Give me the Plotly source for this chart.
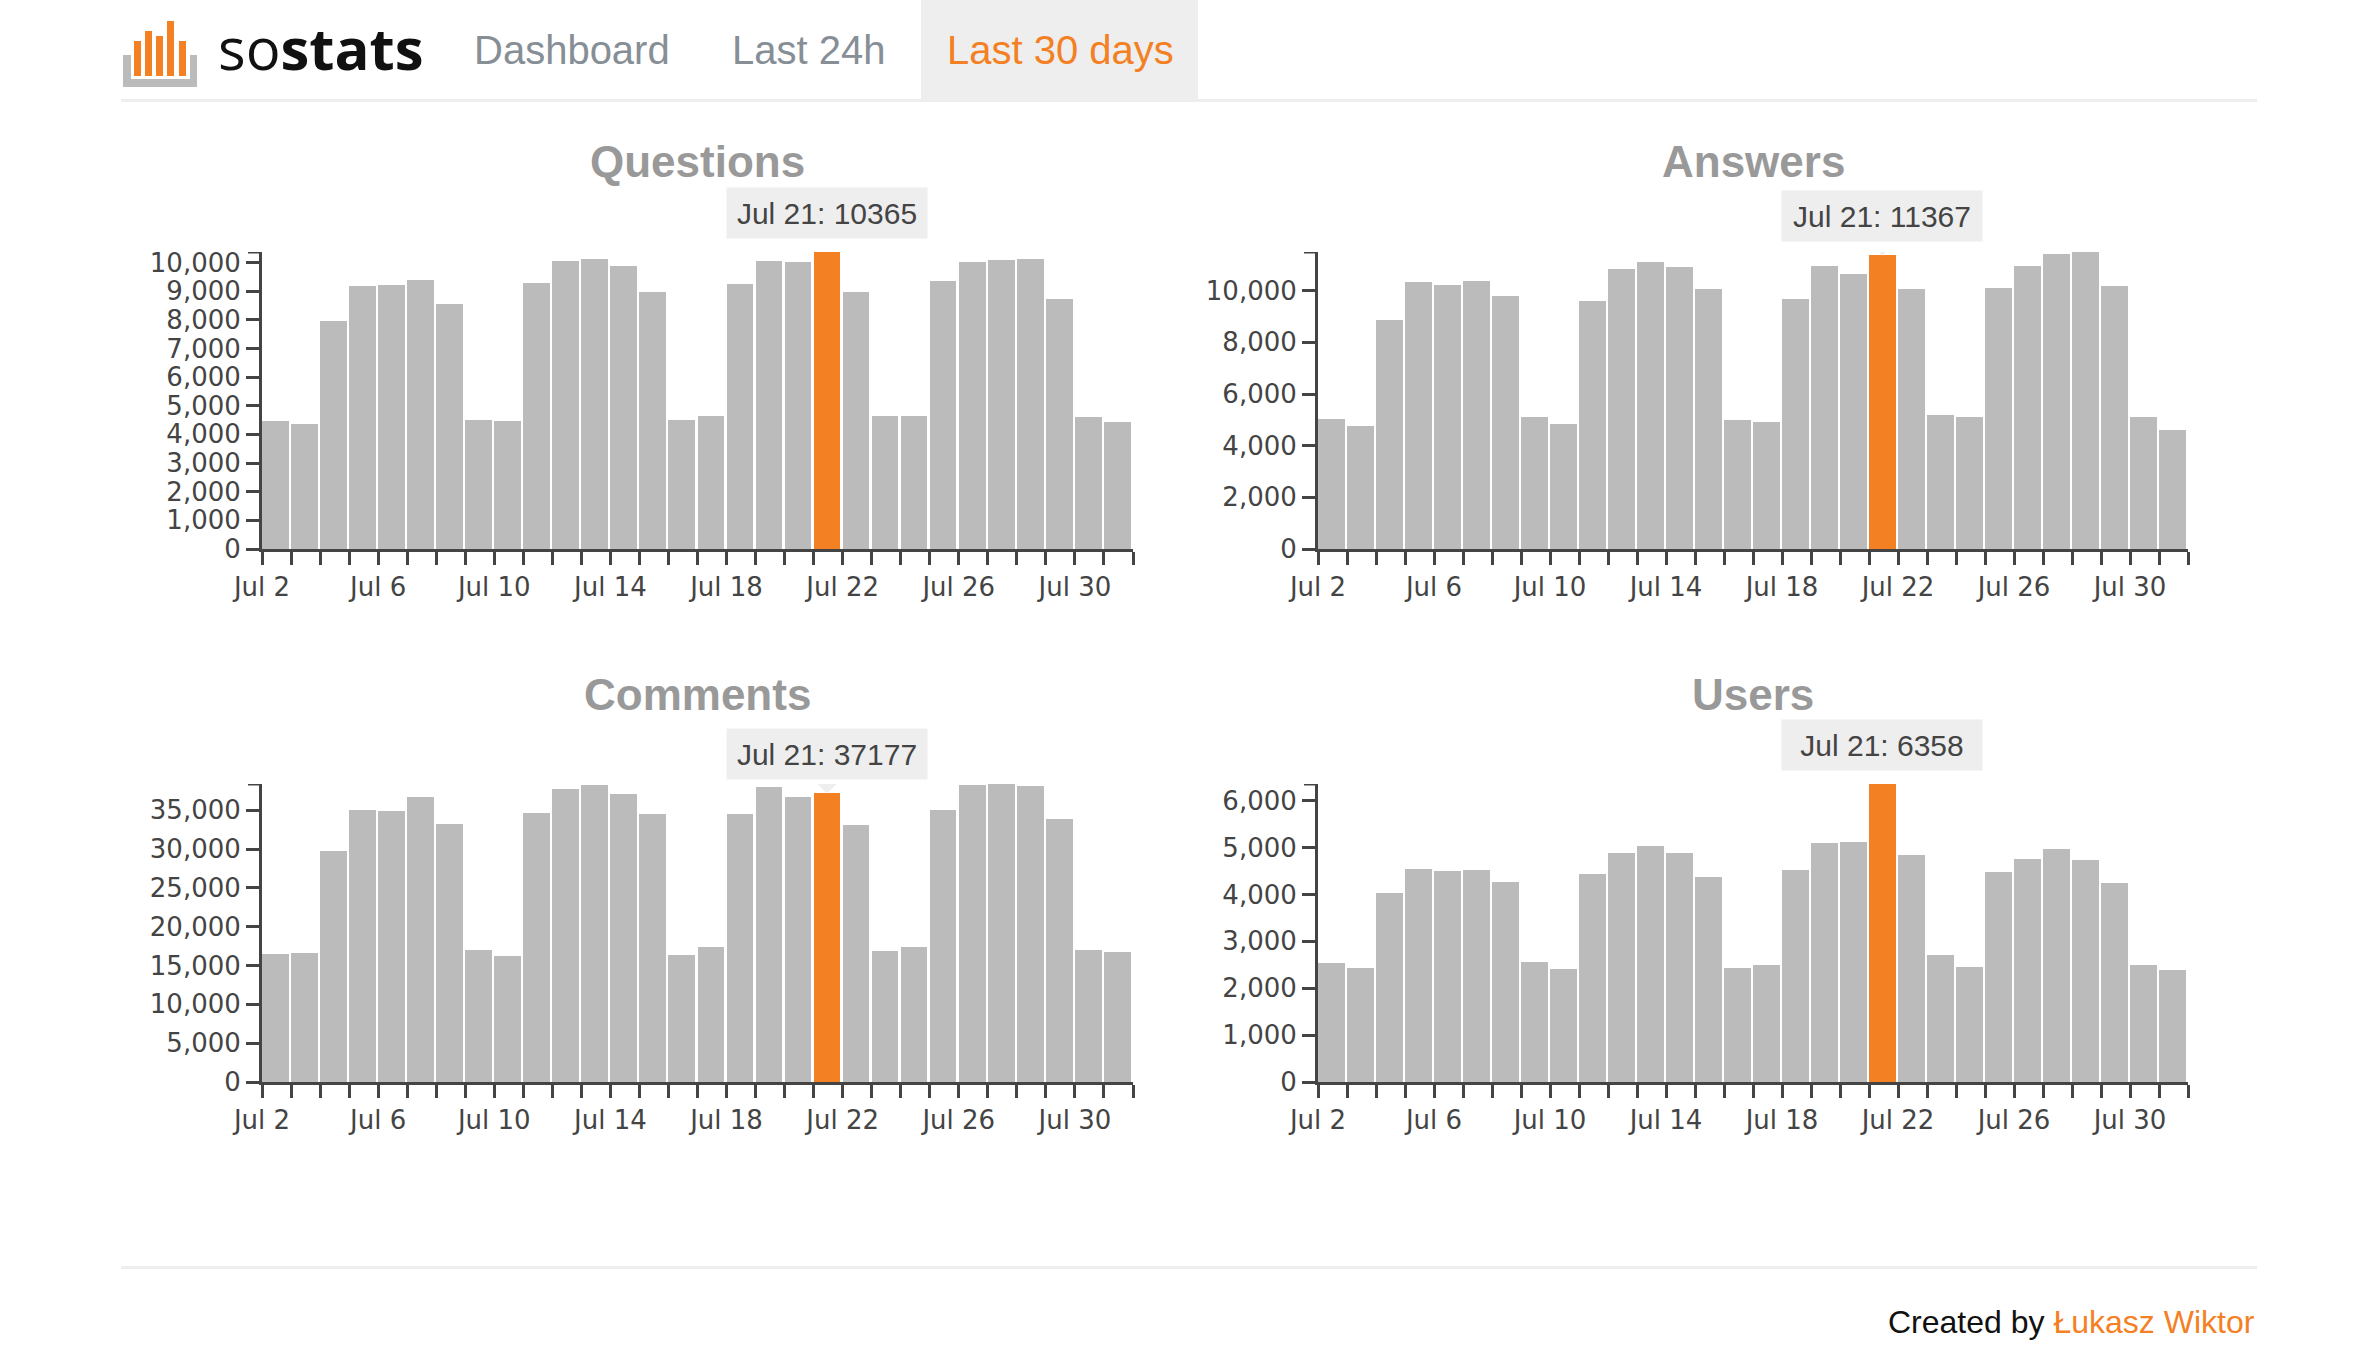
import plotly.graph_objects as go
from datetime import date, timedelta

# ---------------- data ----------------
year, month = 2016, 7
days = list(range(2, 32))  # Jul 2 .. Jul 31
questions = [4480, 4360, 7960, 9170, 9230, 9390, 8540, 4510, 4450, 9280, 10050, 10110, 9870, 8970,
             4490, 4650, 9260, 10050, 10000, 10365, 8970, 4640, 4640, 9350, 10000, 10080, 10130, 8730,
             4600, 4440]
answers = [5020, 4780, 8850, 10320, 10210, 10360, 9790, 5130, 4840, 9620, 10850, 11110, 10910, 10050,
           5010, 4910, 9670, 10950, 10650, 11367, 10070, 5180, 5130, 10120, 10960, 11430, 11500, 10180,
           5100, 4620]
comments = [16430, 16560, 29790, 35020, 34850, 36660, 33200, 16990, 16210, 34630, 37790, 38220, 37050, 34500,
            16390, 17420, 34500, 38000, 36750, 37177, 33160, 16820, 17380, 35060, 38220, 38390, 38090, 33900,
            16990, 16780]
users = [2540, 2440, 4030, 4550, 4510, 4530, 4260, 2560, 2420, 4430, 4880, 5040, 4880, 4380,
         2440, 2500, 4530, 5090, 5130, 6358, 4840, 2710, 2460, 4470, 4760, 4970, 4740, 4250,
         2500, 2390]
highlight_day = 21
titles = ["Questions", "Answers", "Comments", "Users"]
y_dticks = [1000, 2000, 5000, 1000]
nav_items = ["Dashboard", "Last 24h", "Last 30 days"]
footer_text = "Created by"
footer_author = "Łukasz Wiktor"

# ---------------- styling ----------------
W, H = 2375, 1372
GRAY_BAR = "#bbbbbb"
ORANGE = "#f48024"
AXIS = "#444444"
DAY_MS = 86400000
BAR_FRAC = 0.92
TICK_FONT = dict(family="DejaVu Sans", size=26, color=AXIS)

def px(x):
    return x / W

def py(y):
    return 1 - y / H

dates = [date(year, month, d) for d in days]
x_str = [d.isoformat() for d in dates]
x_start = dates[0].isoformat()
x_end = (dates[-1] + timedelta(days=1)).isoformat()

# plot areas in pixels: (left, right, top, bottom)
areas = [(262, 1133, 252, 549), (1318, 2188, 252, 549),
         (262, 1133, 784, 1082), (1318, 2188, 784, 1082)]
title_y = [162, 162, 694, 694]
series = [questions, answers, comments, users]

fig = go.Figure()
shapes = []
annotations = []

for i, (vals, title, dt, area) in enumerate(zip(series, titles, y_dticks, areas)):
    n = "" if i == 0 else str(i + 1)
    xa, ya = "x" + n, "y" + n
    colors = [ORANGE if d == highlight_day else GRAY_BAR for d in days]
    fig.add_trace(go.Bar(
        x=x_str, y=vals, xaxis=xa, yaxis=ya,
        width=[BAR_FRAC * DAY_MS] * len(vals), offset=0,
        marker=dict(color=colors, line=dict(width=0)),
        hovertemplate="%{x|%b %-d}: %{y}<extra></extra>",
        showlegend=False,
    ))
    l, r, t, b = area
    ymax = max(vals)
    fig.update_layout(**{
        "xaxis" + n: dict(
            domain=[px(l), px(r)], anchor=ya, type="date",
            range=[x_start, x_end], tick0=x_start, dtick=4 * DAY_MS,
            tickformat="%b %-d", ticks="outside", ticklen=13, tickwidth=3, tickcolor=AXIS,
            showline=True, linewidth=3, linecolor=AXIS, showgrid=False, zeroline=False,
            tickfont=TICK_FONT, automargin=False,
            minor=dict(dtick=DAY_MS, tick0=x_start, ticks="outside", ticklen=13,
                       tickwidth=3, tickcolor=AXIS, showgrid=False),
            fixedrange=True,
        ),
        "yaxis" + n: dict(
            domain=[py(b), py(t)], anchor=xa, range=[0, ymax],
            dtick=dt, tickformat=",d", ticks="outside", ticklen=13, tickwidth=3, tickcolor=AXIS,
            showline=True, linewidth=3, linecolor=AXIS, showgrid=False, zeroline=False,
            tickfont=TICK_FONT, automargin=False,
            fixedrange=True,
        ),
    })
    # top outer tick of y axis (d3 style)
    shapes.append(dict(type="line", xref="paper", yref=ya, x0=px(l - 14), x1=px(l),
                       y0=ymax, y1=ymax, line=dict(color=AXIS, width=3)))
    # chart title
    annotations.append(dict(xref="paper", yref="paper", x=px((l + r) / 2), y=py(title_y[i]),
                            text="<b>" + title + "</b>", showarrow=False,
                            xanchor="center", yanchor="middle",
                            font=dict(family="Liberation Sans", size=44, color="#999999")))
    # tooltip for highlighted day
    hi = days.index(highlight_day)
    hv = vals[hi]
    xc = (dates[hi].isoformat() + " " +
          "%02d:%02d" % divmod(int(BAR_FRAC * 24 * 60 / 2), 60))
    annotations.append(dict(xref=xa, yref=ya, x=xc, y=hv, showarrow=False,
                            xanchor="center", yanchor="bottom", yshift=13,
                            text="%s %d: %d" % (dates[hi].strftime("%b"), highlight_day, hv),
                            bgcolor="#eeeeee", width=200, height=50, borderpad=0,
                            font=dict(family="Liberation Sans", size=30, color="#444444")))
    shapes.append(dict(type="path", xref=xa, yref=ya, xsizemode="pixel", ysizemode="pixel",
                       xanchor=xc, yanchor=hv, path="M-13,13 L13,13 L0,0 Z",
                       fillcolor="#eeeeee", line=dict(width=0)))

# ---------------- header ----------------
# logo bracket
shapes.append(dict(type="rect", xref="paper", yref="paper", x0=px(123), x1=px(197), y0=py(87), y1=py(55),
                   fillcolor=GRAY_BAR, line=dict(width=0), layer="above"))
shapes.append(dict(type="rect", xref="paper", yref="paper", x0=px(131), x1=px(190), y0=py(79), y1=py(55),
                   fillcolor="white", line=dict(width=0), layer="above"))
for x0, top in [(134, 41), (145, 31), (156, 36), (167, 21), (179, 41)]:
    shapes.append(dict(type="rect", xref="paper", yref="paper", x0=px(x0), x1=px(x0 + 7),
                       y0=py(76), y1=py(top), fillcolor=ORANGE, line=dict(width=0), layer="above"))
annotations.append(dict(xref="paper", yref="paper", x=px(216), y=py(48), xanchor="left", yanchor="middle",
                        text="so<b>stats</b>", showarrow=False,
                        font=dict(family="Open Sans", size=58, color="#111111")))
# active nav background
shapes.append(dict(type="rect", xref="paper", yref="paper", x0=px(921), x1=px(1198), y0=py(100), y1=py(0),
                   fillcolor="#eeeeee", line=dict(width=0), layer="below"))
nav_x = [572, 808, 1060]
for txt, cx in zip(nav_items, nav_x):
    annotations.append(dict(xref="paper", yref="paper", x=px(cx), y=py(50), xanchor="center",
                            yanchor="middle", text=txt, showarrow=False,
                            font=dict(family="Liberation Sans", size=40,
                                      color=ORANGE if txt == "Last 30 days" else "#868e96")))
# header & footer separators
shapes.append(dict(type="rect", xref="paper", yref="paper", x0=px(121), x1=px(2257), y0=py(102), y1=py(99),
                   fillcolor="#eeeeee", line=dict(width=0), layer="below"))
shapes.append(dict(type="rect", xref="paper", yref="paper", x0=px(121), x1=px(2257), y0=py(1269), y1=py(1266),
                   fillcolor="#eeeeee", line=dict(width=0), layer="below"))
annotations.append(dict(xref="paper", yref="paper", x=px(2257), y=py(1322), xanchor="right", yanchor="middle",
                        text=footer_text + " <span style='color:" + ORANGE + "'>" + footer_author + "</span>",
                        showarrow=False, font=dict(family="Liberation Sans", size=32, color="#111111")))

fig.update_layout(
    width=W, height=H, margin=dict(l=0, r=0, t=0, b=0, pad=0, autoexpand=False),
    paper_bgcolor="white", plot_bgcolor="white",
    shapes=shapes, annotations=annotations, bargap=0, hovermode="closest", showlegend=False,
)

fig.write_html(
    "out.html",
    config={"displayModeBar": False},
    post_script="document.body.style.margin='0';document.body.style.overflow='hidden';",
)
